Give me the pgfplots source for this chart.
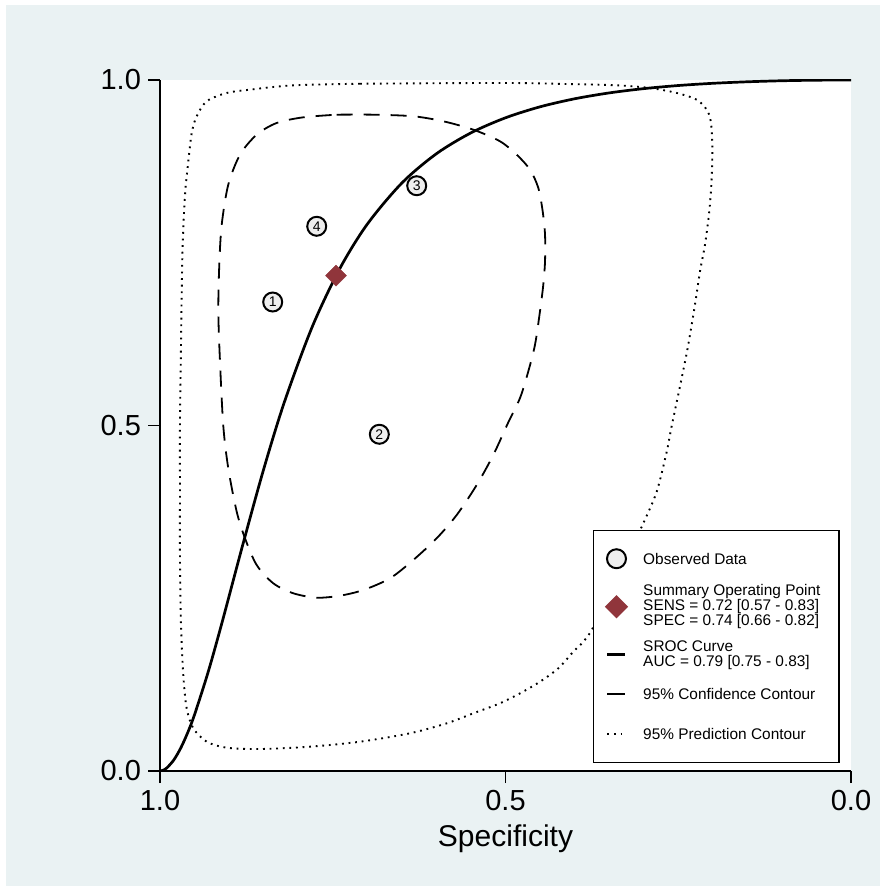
\documentclass[border=0pt]{standalone}
\usepackage{pgfplots}
\pgfplotsset{compat=1.18}
\usepackage{pgfplotstable}
\usepackage{fontspec}
\setmainfont{Liberation Sans}

\definecolor{bgblue}{HTML}{EAF2F3}
\definecolor{cranberry}{RGB}{144,53,59}
\definecolor{obsfill}{HTML}{EEEEEE}

% observed studies
\pgfplotstableread{
spec sens lab
0.8369 0.6787 1
0.6826 0.4873 2
0.6285 0.8470 3
0.7732 0.7883 4
}\obsdata

% summary operating point
\pgfplotstableread{
spec sens
0.7453 0.7168
}\summ

% SROC curve
\pgfplotstableread{
spec sens
1.000 0.0000
0.998 0.0003
0.995 0.0013
0.990 0.0046
0.980 0.0160
0.970 0.0332
0.960 0.0553
0.950 0.0816
0.930 0.1443
0.910 0.2157
0.880 0.3282
0.850 0.4366
0.820 0.5339
0.780 0.6421
0.740 0.7267
0.700 0.7914
0.650 0.8509
0.600 0.8933
0.550 0.9235
0.500 0.9453
0.450 0.9612
0.400 0.9728
0.350 0.9813
0.300 0.9875
0.250 0.9920
0.200 0.9952
0.150 0.9974
0.100 0.9989
0.050 0.9997
0.000 1.0000
}\sroc

% 95% confidence contour
\pgfplotstableread{
spec sens
0.7443 0.9498
0.6913 0.9498
0.6334 0.9475
0.5900 0.9402
0.5466 0.9281
0.5080 0.9113
0.4838 0.8919
0.4645 0.8702
0.4525 0.8437
0.4462 0.8100
0.4428 0.7761
0.4428 0.7376
0.4453 0.7038
0.4501 0.6653
0.4573 0.6169
0.4670 0.5784
0.4790 0.5398
0.4964 0.5036
0.5177 0.4573
0.5417 0.4139
0.5706 0.3705
0.5996 0.3368
0.6334 0.3054
0.6671 0.2789
0.7058 0.2619
0.7395 0.2537
0.7732 0.2508
0.8071 0.2572
0.8360 0.2716
0.8601 0.2981
0.8770 0.3368
0.8890 0.3753
0.9012 0.4381
0.9084 0.4993
0.9132 0.5929
0.9156 0.6653
0.9142 0.7327
0.9107 0.7906
0.9012 0.8485
0.8842 0.8919
0.8601 0.9208
0.8311 0.9378
0.7926 0.9460
0.7443 0.9498
}\conf

% 95% prediction contour
\pgfplotstableread{
spec sens
0.7106 0.9946
0.5032 0.9957
0.4114 0.9942
0.3391 0.9923
0.2909 0.9884
0.2522 0.9812
0.2233 0.9715
0.2088 0.9570
0.2030 0.9402
0.2007 0.9064
0.2016 0.8582
0.2051 0.8100
0.2113 0.7617
0.2185 0.7232
0.2258 0.6748
0.2355 0.6169
0.2450 0.5687
0.2595 0.4993
0.2667 0.4621
0.2812 0.4042
0.3006 0.3585
0.3227 0.3111
0.3488 0.2547
0.3753 0.2040
0.3874 0.1871
0.4019 0.1726
0.4236 0.1486
0.4501 0.1292
0.4790 0.1124
0.5080 0.0980
0.5466 0.0835
0.5851 0.0690
0.6382 0.0546
0.7106 0.0424
0.7829 0.0352
0.8553 0.0318
0.9035 0.0337
0.9324 0.0424
0.9518 0.0618
0.9614 0.0907
0.9663 0.1389
0.9696 0.2113
0.9711 0.3078
0.9711 0.4042
0.9711 0.5007
0.9696 0.6169
0.9686 0.6893
0.9672 0.7617
0.9638 0.8340
0.9590 0.8823
0.9541 0.9233
0.9469 0.9475
0.9324 0.9692
0.9035 0.9812
0.8698 0.9860
0.8071 0.9923
0.7106 0.9946
}\pred

\begin{document}
\begin{tikzpicture}
\useasboundingbox (0,0) rectangle (440pt,444pt);
\fill[white] (0,0) rectangle (440pt,444pt);
\fill[bgblue] (3pt,1pt) rectangle (440pt,441.5pt);
\begin{axis}[
    at={(80pt,58.5pt)}, anchor=south west,
    scale only axis, width=345.5pt, height=345.5pt,
    xmin=0, xmax=1, ymin=0, ymax=1,
    axis x line=bottom, axis y line=left,
    axis line style={-, line width=1pt, black},
    axis background/.style={fill=white},
    xtick={0,0.5,1}, xticklabels={1.0,0.5,0.0},
    ytick={0,0.5,1}, yticklabels={0.0,0.5,1.0},
    tick align=outside, major tick length=6pt,
    tick style={black, line width=0.75pt},
    /pgf/number format/assume math mode=true,
    tick label style={font=\fontsize{14.5}{17}\selectfont},
    label style={font=\fontsize{15}{18}\selectfont},
    xlabel={Specificity},
    legend cell align=left,
    legend style={at={(0.6266,0.3488)}, anchor=north west,
        draw=black, line width=0.75pt, fill=white,
        inner xsep=5pt, inner ysep=3pt, row sep=0pt,
        font=\fontsize{7.7}{7.5}\selectfont,
        nodes={inner sep=0pt, text depth=}},
]
\addplot[only marks, mark=square*, mark size=3.7pt,
    mark options={rotate=45, fill=cranberry, draw=cranberry, line width=0.2pt},
    forget plot] table[x expr=1-\thisrow{spec}, y=sens] {\summ};

\addplot[black, line width=1.35pt, smooth, forget plot]
    table[x expr=1-\thisrow{spec}, y=sens] {\sroc};

\addplot[black, line width=0.9pt, dash pattern=on 8pt off 5.5pt, smooth, forget plot]
    table[x expr=1-\thisrow{spec}, y=sens] {\conf};

\addplot[black, line width=0.95pt, dash pattern=on 0.9pt off 2.4pt, smooth, forget plot]
    table[x expr=1-\thisrow{spec}, y=sens] {\pred};

\addplot[only marks, mark=*, mark size=4.75pt,
    mark options={draw=black, fill=obsfill, line width=1pt},
    point meta=explicit symbolic, nodes near coords,
    nodes near coords style={anchor=center, text=black, inner sep=0pt,
        font=\fontsize{7}{7}\selectfont},
    forget plot] table[x expr=1-\thisrow{spec}, y=sens, meta=lab] {\obsdata};

\addlegendimage{legend image code/.code={
    \draw[line width=1pt, fill=obsfill] (0,0) circle (4.75pt);
    \path (-6pt,0) (13pt,0);}}
\addlegendentry{\parbox[c][22pt][c]{93pt}{\raggedright Observed Data}}

\addlegendimage{legend image code/.code={
    \fill[cranberry] (0,5.25pt) -- (5.25pt,0) -- (0,-5.25pt) -- (-5.25pt,0) -- cycle;
    \path (-6pt,0) (13pt,0);}}
\addlegendentry{\parbox[c][26pt][c]{93pt}{\raggedright Summary Operating Point\\SENS = 0.72 [0.57 - 0.83]\\SPEC = 0.74 [0.66 - 0.82]}}

\addlegendimage{legend image code/.code={
    \draw[line width=1.35pt] (-4.5pt,0) -- (4.5pt,0);
    \path (-6pt,0) (13pt,0);}}
\addlegendentry{\parbox[c][22pt][c]{93pt}{\raggedright SROC Curve\\AUC = 0.79 [0.75 - 0.83]}}

\addlegendimage{legend image code/.code={
    \draw[line width=0.9pt] (-4.5pt,0) -- (4.5pt,0);
    \path (-6pt,0) (13pt,0);}}
\addlegendentry{\parbox[c][17pt][c]{93pt}{\raggedright 95\% Confidence Contour}}

\addlegendimage{legend image code/.code={
    \draw[line width=0.95pt, dash pattern=on 0.9pt off 2.4pt] (-4.5pt,0) -- (4.5pt,0);
    \path (-6pt,0) (13pt,0);}}
\addlegendentry{\parbox[c][23pt][c]{93pt}{\raggedright 95\% Prediction Contour}}
\end{axis}
\end{tikzpicture}
\end{document}
